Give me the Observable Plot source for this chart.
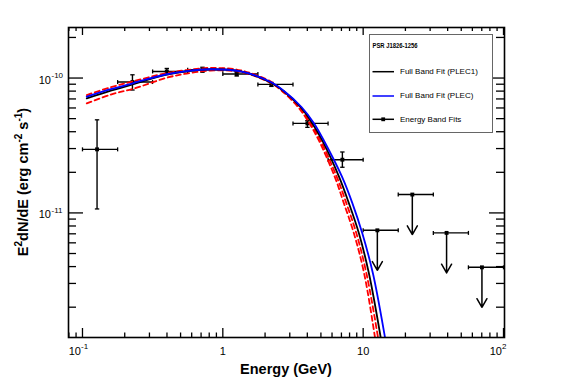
<!DOCTYPE html>
<html><head><meta charset="utf-8">
<script src="https://cdn.jsdelivr.net/npm/d3@7"></script>
<script src="https://cdn.jsdelivr.net/npm/@observablehq/plot@0.6"></script>
<style>
body{margin:0;background:#fff;}
#chart{position:relative;width:567px;height:384px;}
</style></head><body><div id="chart"></div>
<script>
// ---- Energy band fits (GeV ; erg cm^-2 s^-1) ----
const bandLo   = [0.1, 0.178, 0.316, 0.562, 1.0, 1.778, 3.162, 5.623, 10, 17.78, 31.62, 56.23];
const bandHi   = [0.178, 0.316, 0.562, 1.0, 1.778, 3.162, 5.623, 10, 17.78, 31.62, 56.23, 100];
const bandE    = [0.127, 0.227, 0.399, 0.716, 1.256, 2.219, 4.005, 7.11, 12.62, 22.4, 39.3, 70.2];
const bandFlux = [2.96e-11, 9.34e-11, 1.119e-10, 1.152e-10, 1.071e-10, 8.97e-11, 4.61e-11, 2.48e-11, 7.43e-12, 1.368e-11, 7.11e-12, 3.95e-12];
const bandErrLo = [1.07e-11, 8.15e-11, 1.063e-10, 1.104e-10, 1.035e-10, 8.67e-11, 4.31e-11, 2.18e-11, null, null, null, null];
const bandErrHi = [4.9e-11, 1.057e-10, 1.178e-10, 1.202e-10, 1.108e-10, 9.28e-11, 4.83e-11, 2.83e-11, null, null, null, null];
const upperLimit = [false, false, false, false, false, false, false, false, true, true, true, true];

// ---- Full band fit PLEC1 (black) ----
const plec1E    = [0.1073, 0.1591, 0.2308, 0.3985, 0.5534, 0.8200, 1.3414, 2.1938, 2.6930, 3.5881, 4.3482, 5.1211, 6.7246, 7.8838, 9.3363, 10.997, 13.324, 14.228];
const plec1Flux = [7.061e-11, 8.054e-11, 9.028e-11, 1.0579e-10, 1.1230e-10, 1.1620e-10, 1.1192e-10, 9.277e-11, 8.054e-11, 6.075e-11, 4.609e-11, 3.431e-11, 1.858e-11, 1.192e-11, 7.026e-12, 3.551e-12, 1.1984e-12, 7.783e-13];
// ---- Full band fit PLEC (blue) ----
const plecE     = [0.1073, 0.1591, 0.2308, 0.3985, 0.5534, 0.8200, 1.3414, 2.1938, 2.7151, 3.6475, 4.4712, 5.2572, 7.0632, 8.3499, 9.8696, 11.743, 14.298, 15.317];
const plecFlux  = [7.269e-11, 8.261e-11, 9.183e-11, 1.0670e-10, 1.1268e-10, 1.1620e-10, 1.1192e-10, 9.340e-11, 8.054e-11, 6.075e-11, 4.609e-11, 3.431e-11, 1.858e-11, 1.192e-11, 7.026e-12, 3.551e-12, 1.1984e-12, 7.783e-13];
// ---- Error envelope (red dashed) ----
const envAE     = [0.1073, 0.1591, 0.2308, 0.3985, 0.5534, 0.8200, 1.3414, 2.1938, 2.6492, 3.5183, 4.2286, 4.9802, 6.4759, 7.5674, 8.9604, 10.556, 12.747, 13.545];
const envAFlux  = [7.482e-11, 8.548e-11, 9.469e-11, 1.0891e-10, 1.1463e-10, 1.1881e-10, 1.1404e-10, 9.420e-11, 8.054e-11, 6.075e-11, 4.609e-11, 3.431e-11, 1.858e-11, 1.192e-11, 7.026e-12, 3.551e-12, 1.1984e-12, 7.783e-13];
const envBE     = [0.1073, 0.1591, 0.2308, 0.3985, 0.5534, 0.8200, 1.3414, 2.1938, 2.6276, 3.4441, 4.1394, 4.8433, 6.2669, 7.2627, 8.6001, 10.165, 12.135, 12.894];
const envBFlux  = [6.483e-11, 7.547e-11, 8.332e-11, 1.0051e-10, 1.0798e-10, 1.1365e-10, 1.1078e-10, 9.183e-11, 8.054e-11, 6.075e-11, 4.609e-11, 3.431e-11, 1.858e-11, 1.192e-11, 7.026e-12, 3.551e-12, 1.1984e-12, 7.783e-13];

// ---- Axes ----
const xDomain = [0.0795, 101.65];
const yDomain = [1.192e-12, 2.37e-10];
const xMajorTicks = [0.1, 1, 10, 100];
const xTickBase = ["10", "1", "10", "10"];
const xTickExp  = ["-1", "", "", "2"];
const yMajorTicks = [1e-11, 1e-10];
const yTickBase = ["10", "10"];
const yTickExp  = ["-11", "-10"];
const legendTitle = "PSR J1826-1256";
const legendLabels = ["Full Band Fit (PLEC1)", "Full Band Fit (PLEC)", "Energy Band Fits"];

// ---- build tables ----
const pts = bandE.map((e, i) => ({e, f: bandFlux[i], lo: bandLo[i], hi: bandHi[i], fl: bandErrLo[i], fh: bandErrHi[i], ul: upperLimit[i]}));
const det = pts.filter(d => !d.ul);
const uls = pts.filter(d => d.ul);
const curve = (E, F) => E.map((e, i) => ({e, f: F[i]}));
const minorTicks = (dom, decades) => decades.flatMap(n => d3.range(2, 10).map(k => k * Math.pow(10, n))).filter(v => v > dom[0] && v < dom[1]);
const xMinor = minorTicks(xDomain, [-2, -1, 0, 1]);
const yMinor = minorTicks(yDomain, [-13, -12, -11, -10]);
const xLab = xMajorTicks.map((v, i) => ({v, base: xTickBase[i], exp: xTickExp[i]}));
const yLab = yMajorTicks.map((v, i) => ({v, base: yTickBase[i], exp: yTickExp[i]}));

const W = 567, H = 384;
const mL = 68, mR = 63, mT = 27, mB = 47;
const iW = W - mL - mR, iH = H - mT - mB;
const FONT = "'Liberation Sans', Arial, Helvetica, sans-serif";
const pxPerDecadeY = iH / (Math.log10(yDomain[1]) - Math.log10(yDomain[0]));
const arrowPx = 40;
const arrowFactor = Math.pow(10, -arrowPx / pxPerDecadeY);

const capV = {draw(c) { c.moveTo(0, -2); c.lineTo(0, 2); }};
const capH = {draw(c) { c.moveTo(-2.2, 0); c.lineTo(2.2, 0); }};
const tk = {stroke: "black", strokeWidth: 1.3};
const dash = {stroke: "#ff0000", strokeWidth: 1.8, strokeDasharray: "5,3.5", curve: "catmull-rom", clip: true};

const plot = Plot.plot({
  width: W, height: H,
  marginLeft: mL, marginRight: mR, marginTop: mT, marginBottom: mB,
  style: {fontFamily: FONT, background: "white", overflow: "visible"},
  x: {type: "log", domain: xDomain, axis: null},
  y: {type: "log", domain: yDomain, axis: null},
  marks: [
    // ticks (inward)
    Plot.tickY(yMajorTicks, {y: d => d, insetRight: iW - 15, ...tk}),
    Plot.tickY(yMajorTicks, {y: d => d, insetLeft: iW - 15, ...tk}),
    Plot.tickY(yMinor, {y: d => d, insetRight: iW - 8, ...tk}),
    Plot.tickY(yMinor, {y: d => d, insetLeft: iW - 8, ...tk}),
    Plot.tickX(xMajorTicks, {x: d => d, insetTop: iH - 9, ...tk}),
    Plot.tickX(xMajorTicks, {x: d => d, insetBottom: iH - 8, ...tk}),
    Plot.tickX(xMinor, {x: d => d, insetTop: iH - 4.5, ...tk}),
    Plot.tickX(xMinor, {x: d => d, insetBottom: iH - 4, ...tk}),
    // tick labels
    Plot.text(yLab, {y: "v", text: "base", frameAnchor: "left", textAnchor: "end", dx: -17.5, dy: 2, fontSize: 11, fill: "black"}),
    Plot.text(yLab, {y: "v", text: "exp", frameAnchor: "left", textAnchor: "start", dx: -17, dy: -2.5, fontSize: 8, fill: "black"}),
    Plot.text(xLab.filter(d => d.exp), {x: "v", text: "base", frameAnchor: "bottom", textAnchor: "end", lineAnchor: "bottom", dx: -1.5, dy: 17, fontSize: 11, fill: "black"}),
    Plot.text(xLab.filter(d => d.exp), {x: "v", text: "exp", frameAnchor: "bottom", textAnchor: "start", lineAnchor: "bottom", dx: -1.5, dy: 11.5, fontSize: 8, fill: "black"}),
    Plot.text(xLab.filter(d => !d.exp), {x: "v", text: "base", frameAnchor: "bottom", textAnchor: "middle", lineAnchor: "bottom", dy: 17, fontSize: 11, fill: "black"}),
    // energy band points
    Plot.link(pts, {x1: "lo", x2: "hi", y1: "f", y2: "f", stroke: "black", strokeWidth: 1.4}),
    Plot.dot(pts, {x: "lo", y: "f", symbol: capV, fill: "none", stroke: "black", strokeWidth: 1.3}),
    Plot.dot(pts, {x: "hi", y: "f", symbol: capV, fill: "none", stroke: "black", strokeWidth: 1.3}),
    Plot.link(det, {x1: "e", x2: "e", y1: "fl", y2: "fh", stroke: "black", strokeWidth: 1.4}),
    Plot.dot(det, {x: "e", y: "fl", symbol: capH, fill: "none", stroke: "black", strokeWidth: 1.3}),
    Plot.dot(det, {x: "e", y: "fh", symbol: capH, fill: "none", stroke: "black", strokeWidth: 1.3}),
    Plot.arrow(uls, {x1: "e", x2: "e", y1: "f", y2: d => d.f * arrowFactor, stroke: "black", strokeWidth: 1.5, headLength: 10, headAngle: 60}),
    Plot.dot(pts, {x: "e", y: "f", symbol: "square", r: 2.2, fill: "black", stroke: "none"}),
    // fitted curves
    Plot.line(curve(envAE, envAFlux), {x: "e", y: "f", ...dash}),
    Plot.line(curve(envBE, envBFlux), {x: "e", y: "f", ...dash}),
    Plot.line(curve(plec1E, plec1Flux), {x: "e", y: "f", stroke: "black", strokeWidth: 1.8, curve: "catmull-rom", clip: true}),
    Plot.line(curve(plecE, plecFlux), {x: "e", y: "f", stroke: "#0000ff", strokeWidth: 1.8, curve: "catmull-rom", clip: true}),
    Plot.frame({stroke: "black", strokeWidth: 1.6})
  ]
});
document.getElementById("chart").appendChild(plot);

// ---- axis titles & legend ----
const svg = d3.select(plot);
svg.append("text").attr("x", mL + iW / 2).attr("y", 373.7).attr("text-anchor", "middle")
  .attr("font-family", FONT).attr("font-weight", "bold").attr("font-size", 14.5).text("Energy (GeV)");

const yt = svg.append("text").attr("transform", `translate(28,${mT + iH / 2}) rotate(-90)`)
  .attr("text-anchor", "middle").attr("font-family", FONT).attr("font-weight", "bold").attr("font-size", 14.5);
yt.append("tspan").text("E");
yt.append("tspan").attr("dy", -6).attr("font-size", 10).text("2");
yt.append("tspan").attr("dy", 6).text("dN/dE (erg cm");
yt.append("tspan").attr("dy", -6).attr("font-size", 10).text("-2");
yt.append("tspan").attr("dy", 6).text(" s");
yt.append("tspan").attr("dy", -6).attr("font-size", 10).text("-1");
yt.append("tspan").attr("dy", 6).text(")");

const lg = svg.append("g").attr("font-family", FONT).attr("text-anchor", "start");
lg.append("rect").attr("x", 369.5).attr("y", 34.5).attr("width", 123).attr("height", 98)
  .attr("fill", "white").attr("stroke", "#666").attr("stroke-width", 1);
lg.append("text").attr("x", 372.5).attr("y", 48).attr("text-anchor", "start").attr("font-weight", "bold").attr("font-size", 7.5)
  .attr("textLength", 45).attr("lengthAdjust", "spacingAndGlyphs").text(legendTitle);
const rows = [{y: 71.7, c: "black"}, {y: 96, c: "#0000ff"}, {y: 119.3, c: "black"}];
rows.forEach((r, i) => {
  lg.append("line").attr("x1", 372.5).attr("x2", 394).attr("y1", r.y).attr("y2", r.y)
    .attr("stroke", r.c).attr("stroke-width", 1.5);
  lg.append("text").attr("x", 400).attr("y", r.y + 2.3).attr("text-anchor", "start").attr("font-size", 8).attr("fill", "black").text(legendLabels[i]);
});
lg.append("rect").attr("x", 381.3).attr("y", 117.4).attr("width", 3.8).attr("height", 3.8).attr("fill", "black");
</script></body></html>
